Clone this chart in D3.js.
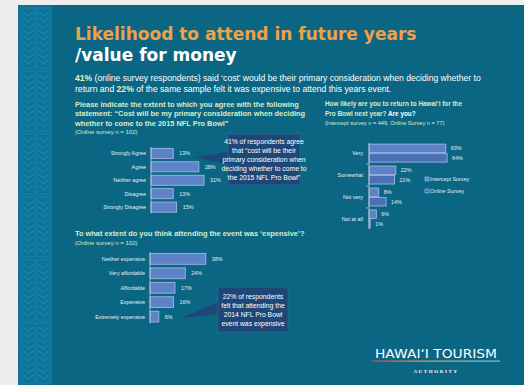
<!DOCTYPE html>
<html>
<head>
<meta charset="utf-8">
<script src="https://cdn.jsdelivr.net/npm/d3@7"></script>
<style>
  body { margin: 0; background: #eeeeee; }
  svg { display: block; }
  text { font-family: "Liberation Sans", Arial, sans-serif; }
</style>
</head>
<body>
<script>
// chart 1: agree with "cost" statement
const agreeCats = ["Strongly Agree", "Agree", "Neither agree", "Disagree", "Strongly Disagree"];
const agreeVals = [13, 28, 31, 13, 15];

// chart 2: likely to return
const returnCats = ["Very", "Somewhat", "Not very", "Not at all"];
const returnSeries = ["Intercept Survey", "Online Survey"];
const interceptVals = [63, 22, 8, 6];
const onlineVals = [64, 21, 14, 1];

// chart 3: was it expensive
const expCats = ["Neither expensive", "Very affordable", "Affordable", "Expensive", "Extremely expensive"];
const expVals = [38, 24, 17, 16, 6];

const W = 524, H = 385;
const slideBg = "#0b6684";
const barFill = "#5e82c8";
const barFill2 = "#4d6fb5";
const barStroke = "#a8bfea";
const qColor = "#d9ecc4";

const svg = d3.select("body").append("svg")
  .attr("width", W).attr("height", H);

// slide
svg.append("rect").attr("x", 18).attr("y", 5).attr("width", W - 18).attr("height", H - 5).attr("fill", slideBg);

// left patterned strip
const strip = svg.append("g");
strip.append("rect").attr("x", 18).attr("y", 5).attr("width", 34).attr("height", H - 5).attr("fill", "#0d7397");
for (let col = 0; col < 2; col++) {
  for (let row = 0; row < 6; row++) {
    const x0 = 22 + col * 15, y0 = 8 + row * 63;
    strip.append("rect").attr("x", x0).attr("y", y0).attr("width", 13).attr("height", 60)
      .attr("fill", "none").attr("stroke", "#1583ab").attr("stroke-width", 1);
    for (let k = 0; k < 9; k++) {
      const yy = y0 + 4 + k * 6;
      strip.append("path")
        .attr("d", `M${x0 + 1.5},${yy} L${x0 + 6.5},${yy + 4} L${x0 + 11.5},${yy}`)
        .attr("fill", "none").attr("stroke", "#1887b0").attr("stroke-width", 1.3);
    }
  }
}

// title
svg.append("text").attr("x", 75).attr("y", 40)
  .style("font-family", "DejaVu Sans, Verdana, sans-serif").style("font-weight", "bold")
  .style("font-size", "17px").attr("fill", "#eda24a")
  .text("Likelihood to attend in future years");
svg.append("text").attr("x", 75).attr("y", 61)
  .style("font-family", "DejaVu Sans, Verdana, sans-serif").style("font-weight", "bold")
  .style("font-size", "17px").attr("fill", "#ffffff")
  .text("/value for money");

const sub = svg.append("text").attr("x", 75).attr("y", 81).attr("fill", "#ffffff").style("font-size", "8.6px");
sub.append("tspan").attr("x", 75).attr("font-weight", "bold").attr("fill", "#e8f0c0").text("41%");
sub.append("tspan").text(" (online survey respondents) said \u2018cost\u2019 would be their primary consideration when deciding whether to");
const sub2 = svg.append("text").attr("x", 75).attr("y", 92).attr("fill", "#ffffff").style("font-size", "8.6px");
sub2.append("tspan").text("return and ");
sub2.append("tspan").attr("font-weight", "bold").attr("fill", "#e8f0c0").text("22%");
sub2.append("tspan").text(" of the same sample felt it was expensive to attend this years event.");

function lines(x, y, arr, size, color, weight, lh) {
  arr.forEach((t, i) => {
    svg.append("text").attr("x", x).attr("y", y + i * lh)
      .style("font-size", size + "px").attr("fill", color).attr("font-weight", weight).text(t);
  });
}

// simple horizontal bar chart
function hbars(cats, vals, opts) {
  const y = d3.scaleBand().domain(cats).range([opts.top, opts.top + cats.length * opts.step]).paddingInner(0.25).paddingOuter(0.1);
  const x = d3.scaleLinear().domain([0, 100]).range([opts.x0, opts.x0 + opts.pxPer * 100]);
  const g = svg.append("g");
  g.selectAll("rect").data(vals).join("rect")
    .attr("x", x(0)).attr("y", (d, i) => y(cats[i]))
    .attr("width", d => x(d) - x(0)).attr("height", y.bandwidth())
    .attr("fill", barFill).attr("stroke", barStroke).attr("stroke-width", 0.8);
  g.selectAll("text.cat").data(cats).join("text").attr("class", "cat")
    .attr("x", x(0) - 5).attr("y", d => y(d) + y.bandwidth() / 2 + 2)
    .attr("text-anchor", "end").style("font-size", "5.4px").attr("fill", "#e6eef4").text(d => d);
  g.selectAll("text.val").data(vals).join("text").attr("class", "val")
    .attr("x", d => x(d) + 6).attr("y", (d, i) => y(cats[i]) + y.bandwidth() / 2 + 2)
    .style("font-size", "5.4px").attr("fill", "#e6eef4").text(d => d + "%");
  g.append("line").attr("x1", x(0)).attr("x2", x(0))
    .attr("y1", opts.top).attr("y2", opts.top + cats.length * opts.step)
    .attr("stroke", "#b9c9dd").attr("stroke-width", 0.8);
  return { x, y };
}

// chart 1
lines(75, 106.5, ["Please indicate the extent to which you agree with the following",
  "statement:  \u201cCost will be my primary consideration when deciding",
  "whether to come to the 2015 NFL Pro Bowl\u201d"], 7.4, qColor, "bold", 9.5);
lines(75, 134, ["(Online survey n = 102)"], 6, qColor, "normal", 8);
const c1 = hbars(agreeCats, agreeVals, { x0: 151, top: 147, step: 13.3, pxPer: 1.71 });

// chart 3
lines(75, 235.5, ["To what extent do you think attending the event was \u2018expensive\u2019?"], 7.4, qColor, "bold", 9.5);
lines(75, 245, ["(Online survey n = 102)"], 6, qColor, "normal", 8);
const c3 = hbars(expCats, expVals, { x0: 150, top: 252, step: 14.3, pxPer: 1.47 });

// chart 2 (grouped)
lines(325, 106, ["How likely are you to return to Hawai\u2018i for the"], 6.4, qColor, "bold", 9);
const q2 = svg.append("text").attr("x", 325).attr("y", 115.5).style("font-size", "6.4px").attr("font-weight", "bold").attr("fill", qColor);
q2.append("tspan").text("Pro Bowl next year? ");
q2.append("tspan").attr("fill", "#ffffff").text("Are you?");
lines(325, 124.5, ["(Intercept survey n = 449, Online Survey n = 77)"], 5.6, qColor, "normal", 8);

const y2 = d3.scaleBand().domain(returnCats).range([143, 229]).paddingInner(0.18).paddingOuter(0.05);
const ySub = d3.scaleBand().domain(returnSeries).range([0, y2.bandwidth()]).paddingInner(0.12);
const x2 = d3.scaleLinear().domain([0, 100]).range([369, 369 + 122]);
const g2 = svg.append("g");
const seriesVals = [interceptVals, onlineVals];
const seriesFill = [barFill, barFill2];
returnSeries.forEach((s, si) => {
  g2.selectAll("rect.s" + si).data(seriesVals[si]).join("rect").attr("class", "s" + si)
    .attr("x", x2(0)).attr("y", (d, i) => y2(returnCats[i]) + ySub(s))
    .attr("width", d => x2(d) - x2(0)).attr("height", ySub.bandwidth())
    .attr("fill", seriesFill[si]).attr("stroke", barStroke).attr("stroke-width", 0.8);
  g2.selectAll("text.v" + si).data(seriesVals[si]).join("text").attr("class", "v" + si)
    .attr("x", d => x2(d) + 5).attr("y", (d, i) => y2(returnCats[i]) + ySub(s) + ySub.bandwidth() / 2 + 2)
    .style("font-size", "5.4px").attr("fill", "#e6eef4").text(d => d + "%");
});
g2.selectAll("text.cat").data(returnCats).join("text").attr("class", "cat")
  .attr("x", x2(0) - 6).attr("y", d => y2(d) + y2.bandwidth() / 2 + 2)
  .attr("text-anchor", "end").style("font-size", "5.4px").attr("fill", "#e6eef4").text(d => d);
g2.append("line").attr("x1", x2(0)).attr("x2", x2(0)).attr("y1", 143).attr("y2", 229)
  .attr("stroke", "#b9c9dd").attr("stroke-width", 0.8);
returnCats.slice(1).forEach(c => {
  const yy = y2(c) - y2.step() * y2.paddingInner() / 2;
  g2.append("line").attr("x1", x2(0) - 3).attr("x2", x2(0)).attr("y1", yy).attr("y2", yy)
    .attr("stroke", "#b9c9dd").attr("stroke-width", 0.8);
});

// legend
returnSeries.forEach((s, i) => {
  const ly = 181 + i * 12;
  svg.append("rect").attr("x", 425).attr("y", ly - 4).attr("width", 4).attr("height", 4)
    .attr("fill", seriesFill[i]).attr("stroke", barStroke).attr("stroke-width", 0.6);
  svg.append("text").attr("x", 430).attr("y", ly).style("font-size", "5.4px").attr("fill", "#e6eef4").text(s);
});

// callouts
function callout(bx, by, bw, bh, tip, textLines) {
  const g = svg.append("g");
  g.append("path")
    .attr("d", `M${bx},${by + bh * 0.35} L${tip[0]},${tip[1]} L${bx},${by + bh * 0.6} Z`)
    .attr("fill", "#1e4778");
  g.append("rect").attr("x", bx).attr("y", by).attr("width", bw).attr("height", bh)
    .attr("fill", "#1e4778").attr("stroke", "#3a6a98").attr("stroke-width", 0.6);
  const lh = 9;
  const y0 = by + bh / 2 - (textLines.length - 1) * lh / 2 + 2.5;
  textLines.forEach((t, i) => {
    g.append("text").attr("x", bx + bw / 2).attr("y", y0 + i * lh).attr("text-anchor", "middle")
      .style("font-size", "6.8px").attr("fill", "#ffffff").text(t);
  });
}
callout(228, 134, 72, 51, [c1.x(agreeVals[0]) + 22, 157],
  ["41% of respondents agree", "that \u201ccost will be their", "primary consideration when", "deciding whether to come to", "the 2015 NFL Pro Bowl\u201d"]);
callout(218, 287, 70, 45, [c3.x(expVals[4]) + 22, 318],
  ["22% of respondents", "felt that attending the", "2014 NFL Pro Bowl", "event was expensive"]);

// logo
const logo = svg.append("g");
logo.append("text").attr("x", 436).attr("y", 358).attr("text-anchor", "middle")
  .style("font-family", "DejaVu Sans, sans-serif").style("font-size", "13px").attr("fill", "#ffffff")
  .attr("textLength", 122).attr("lengthAdjust", "spacingAndGlyphs").text("HAWAI\u2018I TOURISM");
const grad = svg.append("defs").append("linearGradient").attr("id", "lg");
grad.append("stop").attr("offset", "0%").attr("stop-color", "#c0503a");
grad.append("stop").attr("offset", "40%").attr("stop-color", "#d8a04a");
grad.append("stop").attr("offset", "100%").attr("stop-color", "#6ec8d8");
logo.append("rect").attr("x", 371).attr("y", 360.5).attr("width", 129).attr("height", 1.2).attr("fill", "url(#lg)");
logo.append("text").attr("x", 436).attr("y", 373).attr("text-anchor", "middle")
  .style("font-family", "Liberation Serif, serif").style("font-size", "5px").attr("font-weight", "bold")
  .attr("letter-spacing", "1.6px").attr("fill", "#ffffff").text("AUTHORITY");
</script>
</body>
</html>
